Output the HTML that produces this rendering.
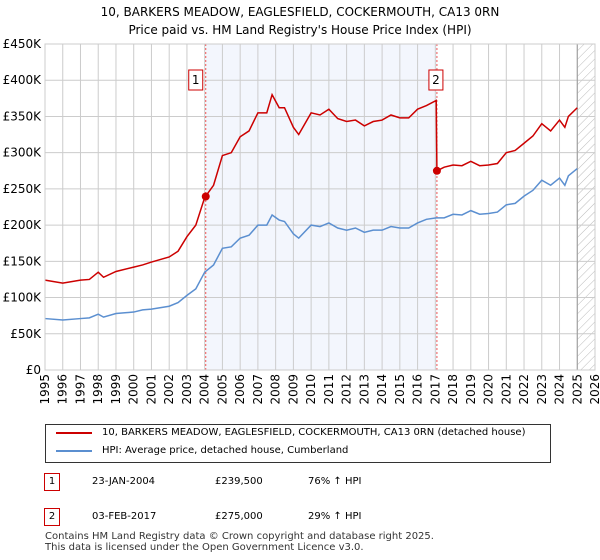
<!DOCTYPE html>
<html><head><meta charset="utf-8"><style>
body{margin:0;width:600px;height:560px;background:#fff;font-family:"DejaVu Sans","Liberation Sans",sans-serif;overflow:hidden;position:relative}
.t{position:absolute;font-size:12px;color:#000}
</style></head><body>
<div class="t" style="left:0;width:600px;text-align:center;top:3px;font-size:12px;line-height:18px">10, BARKERS MEADOW, EAGLESFIELD, COCKERMOUTH, CA13 0RN<br>Price paid vs. HM Land Registry's House Price Index (HPI)</div>
<svg id="c" width="600" height="410" style="position:absolute;left:0;top:0" font-family="DejaVu Sans, Liberation Sans, sans-serif" font-size="12"></svg>
<div style="position:absolute;left:45px;top:424px;width:504px;height:37px;border:1px solid #333;font-size:10px">
 <div style="position:absolute;left:10px;top:7px;width:36px;height:2px;background:#cc0000"></div>
 <div style="position:absolute;left:56px;top:2px">10, BARKERS MEADOW, EAGLESFIELD, COCKERMOUTH, CA13 0RN (detached house)</div>
 <div style="position:absolute;left:10px;top:25px;width:36px;height:2px;background:#5b8fd0"></div>
 <div style="position:absolute;left:56px;top:20px">HPI: Average price, detached house, Cumberland</div>
</div>
<div style="position:absolute;left:0;top:473px;font-size:10px">
 <div style="position:absolute;left:44px;top:0;width:14px;height:16px;border:1px solid #c00;text-align:center;line-height:16px">1</div>
 <div style="position:absolute;left:92px;top:3px;white-space:nowrap">23-JAN-2004</div>
 <div style="position:absolute;left:215px;top:3px;white-space:nowrap">£239,500</div>
 <div style="position:absolute;left:308px;top:3px;white-space:nowrap">76% ↑ HPI</div>
</div>
<div style="position:absolute;left:0;top:508px;font-size:10px">
 <div style="position:absolute;left:44px;top:0;width:14px;height:16px;border:1px solid #c00;text-align:center;line-height:16px">2</div>
 <div style="position:absolute;left:92px;top:3px;white-space:nowrap">03-FEB-2017</div>
 <div style="position:absolute;left:215px;top:3px;white-space:nowrap">£275,000</div>
 <div style="position:absolute;left:308px;top:3px;white-space:nowrap">29% ↑ HPI</div>
</div>
<div class="t" style="left:45px;top:531px;font-size:10px;line-height:11px;color:#333">Contains HM Land Registry data © Crown copyright and database right 2025.<br>This data is licensed under the Open Government Licence v3.0.</div>
<script>
const years=[1995,1996,1997,1997.5,1998,1998.3,1999,2000,2000.5,2001,2002,2002.5,2003,2003.5,2004,2004.5,2005,2005.5,2006,2006.5,2007,2007.5,2007.8,2008.2,2008.5,2009,2009.3,2010,2010.5,2011,2011.5,2012,2012.5,2013,2013.5,2014,2014.5,2015,2015.5,2016,2016.5,2017.05,2017.09,2017.5,2018,2018.5,2019,2019.5,2020,2020.5,2021,2021.5,2022,2022.5,2023,2023.5,2024,2024.3,2024.5,2025];
const hpi=[71,69,71,72,77,73,78,80,83,84,88,93,103,112,135,145,168,170,182,186,200,200,214,207,205,188,182,200,198,203,196,193,196,190,193,193,198,196,196,203,208,210,210,210,215,214,220,215,216,218,228,230,240,248,262,255,265,255,268,278];
const price=[124,120,124,125,135,128,136,142,145,149,156,164,184,200,238,255,296,300,322,330,355,355,380,362,362,335,325,355,352,360,347,343,345,337,343,345,352,348,348,360,365,372,275,280,283,282,288,282,283,285,300,303,313,323,340,330,345,335,350,362];
const sales=[[2004.06,239.5],[2017.09,275]];
const yTicks=[0,50,100,150,200,250,300,350,400,450];
const yLabels=["£0","£50K","£100K","£150K","£200K","£250K","£300K","£350K","£400K","£450K"];
const ns="http://www.w3.org/2000/svg",s=document.getElementById('c');
const X0=45,X1=595,Y0=370,Y1=44;
const x=v=>X0+(v-1995)/31*(X1-X0), y=v=>Y0-v/450*(Y0-Y1);
function el(t,a,p){const e=document.createElementNS(ns,t);for(const k in a)e.setAttribute(k,a[k]);(p||s).appendChild(e);return e;}
const defs=el('defs',{});const pat=el('pattern',{id:'h',width:6,height:6,patternUnits:'userSpaceOnUse',patternTransform:'rotate(45)'},defs);el('line',{x1:0,y1:0,x2:0,y2:6,stroke:'#bbb','stroke-width':1},pat);
let r=el('rect',{x:x(2004.06),y:Y1,width:x(2017.09)-x(2004.06),height:Y0-Y1,fill:'#eef2fc',opacity:0.7});

r=el('rect',{x:x(2025.0),y:Y1,width:X1-x(2025.0),height:Y0-Y1,fill:'url(#h)'});

for(let yr=1995;yr<=2026;yr++){const g=el('line',{x1:x(yr),x2:x(yr),y1:Y1,y2:Y0,stroke:'#ccc'});
 const tx=x(yr)+4,ty=Y0+4;
 const t=el('text',{x:tx,y:ty,'text-anchor':'end',transform:'rotate(-90 '+tx+' '+ty+')'});t.textContent=yr;}
yTicks.forEach((v,i)=>{const g=el('line',{x1:X0,x2:X1,y1:y(v),y2:y(v),stroke:'#ccc'});
 const t=el('text',{x:X0-4,y:y(v)+4,'text-anchor':'end'});t.textContent=yLabels[i];});
el('line',{x1:x(2025.0),x2:x(2025.0),y1:Y1,y2:Y0,stroke:'#999'});
sales.forEach((d,i)=>{const l=el('line',{x1:x(d[0]),x2:x(d[0]),y1:Y1,y2:Y0,stroke:'#e55','stroke-dasharray':'2,2'});});
let p=el('polyline',{points:years.map((v,i)=>x(v)+','+y(hpi[i])).join(' '),fill:'none',stroke:'#5b8fd0','stroke-width':1.5});

p=el('polyline',{points:years.map((v,i)=>x(v)+','+y(price[i])).join(' '),fill:'none',stroke:'#cc0000','stroke-width':1.5});

sales.forEach((d,i)=>{const c=el('circle',{cx:x(d[0]),cy:y(d[1]),r:4,fill:'#cc0000'});
 const bx=x(d[0])-(i==0?10:1)-7;el('rect',{x:bx,y:70,width:14,height:20,fill:'#fff',stroke:'#c00'});
 const t=el('text',{x:bx+7,y:84,'text-anchor':'middle'});t.textContent=String(i+1);});
el('rect',{x:X0,y:Y1,width:X1-X0,height:Y0-Y1,fill:'none',stroke:'#ccc'});
</script>
</body></html>
